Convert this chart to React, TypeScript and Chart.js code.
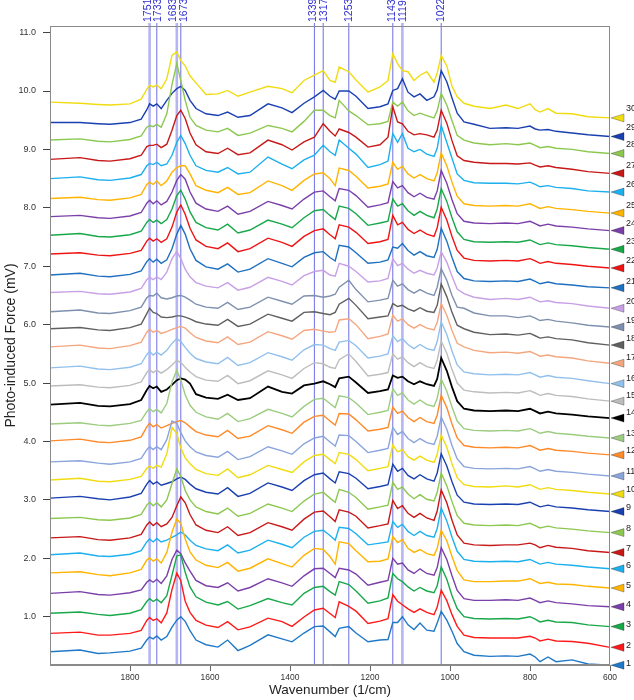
import React, { useEffect, useRef } from "react";
import { Chart, registerables } from "chart.js";

Chart.register(...registerables);

// Wavenumber grid (1/cm) shared by all spectra
const WAVENUMBERS = [2000, 1925, 1880, 1850, 1800, 1772, 1758, 1751, 1742, 1733, 1722, 1708, 1695, 1683, 1673, 1662, 1650, 1635, 1610, 1580, 1556, 1530, 1500, 1455, 1420, 1395, 1365, 1339, 1317, 1300, 1287, 1277, 1253, 1235, 1205, 1175, 1155, 1143, 1131, 1119, 1105, 1090, 1075, 1058, 1040, 1032, 1022, 1008, 995, 982, 965, 940, 900, 860, 830, 800, 787, 775, 755, 735, 695, 655, 600];

// Vertical offset of every spectrum (value at 2000 1/cm), mV
const OFFSETS = [0.40, 0.715, 1.06, 1.40, 1.75, 2.06, 2.35, 2.68, 3.03, 3.34, 3.65, 4.01, 4.30, 4.63, 4.95, 5.26, 5.62, 5.93, 6.22, 6.55, 6.85, 7.21, 7.53, 7.85, 8.16, 8.50, 8.83, 9.16, 9.46, 9.81];

// Spectra relative to their offsets (mV)
const S01 = [0,.03,-.03,-.02,.01,.06,.20,.25,.22,.27,.20,.26,.42,.54,.60,.52,.36,.20,.12,.08,.20,.02,.11,.29,.22,.17,.32,.43,.44,.34,.26,.40,.43,.32,.17,.20,.21,.50,.50,.60,.46,.38,.49,.37,.35,.49,.69,.54,.35,.14,0,-.06,-.08,-.07,-.08,-.04,-.09,-.17,-.09,-.17,-.14,-.21,-.23];
const S02 = [0,.02,-.03,-.03,0,.05,.22,.27,.22,.25,.18,.35,.75,1.03,.90,.55,.36,.22,.14,.10,.20,.06,.11,.26,.20,.12,.28,.40,.43,.34,.27,.54,.46,.38,.17,.21,.25,.66,.55,.49,.42,.36,.42,.36,.32,.45,.74,.56,.32,.12,-.03,-.07,-.08,-.08,-.08,-.05,-.08,-.13,-.10,-.13,-.14,-.17,-.24];
const S03 = [0,.02,-.02,-.04,0,.06,.20,.25,.20,.24,.18,.30,.65,.98,1.00,.70,.45,.28,.19,.14,.20,.07,.13,.25,.18,.14,.34,.44,.46,.37,.31,.54,.49,.38,.17,.21,.26,.68,.59,.54,.45,.38,.44,.38,.35,.47,.79,.58,.30,.08,-.06,-.09,-.10,-.09,-.10,-.06,-.10,-.15,-.12,-.15,-.16,-.20,-.23];
const S04 = [0,.03,-.02,-.03,.01,.06,.19,.23,.19,.24,.17,.30,.58,.74,.68,.52,.38,.22,.13,.10,.18,.04,.10,.25,.18,.12,.30,.42,.43,.34,.27,.43,.40,.33,.14,.19,.22,.60,.50,.52,.40,.34,.42,.34,.31,.44,.78,.58,.30,.05,-.09,-.12,-.12,-.11,-.12,-.08,-.12,-.16,-.13,-.16,-.18,-.21,-.23];
const S05 = [0,.02,-.03,-.05,0,.06,.22,.26,.20,.24,.17,.35,.70,.92,.85,.58,.36,.22,.13,.09,.18,.03,.08,.24,.16,.10,.30,.42,.40,.28,.15,.53,.50,.38,.19,.20,.24,.62,.52,.57,.42,.35,.40,.33,.30,.42,.73,.55,.28,.04,-.12,-.15,-.15,-.14,-.14,-.10,-.14,-.18,-.16,-.19,-.20,-.23,-.26];
const S06 = [0,.03,-.02,-.03,.01,.07,.22,.27,.22,.28,.22,.25,.30,.34,.39,.34,.25,.16,.10,.07,.17,.03,.08,.25,.18,.12,.30,.40,.42,.33,.25,.47,.45,.36,.17,.20,.22,.57,.47,.52,.40,.33,.40,.33,.30,.45,.80,.58,.30,.06,-.08,-.11,-.12,-.11,-.12,-.08,-.12,-.16,-.13,-.16,-.18,-.21,-.24];
const S07 = [0,.02,-.03,-.04,0,.06,.22,.27,.21,.26,.19,.24,.35,.55,.70,.60,.40,.22,.13,.09,.19,.04,.09,.26,.19,.13,.32,.44,.46,.36,.28,.48,.44,.37,.17,.21,.24,.64,.50,.55,.42,.35,.42,.34,.30,.46,.82,.60,.30,.05,-.09,-.12,-.13,-.12,-.12,-.09,-.12,-.17,-.13,-.16,-.18,-.22,-.25];
const S08 = [0,.02,-.02,-.03,.01,.07,.23,.28,.22,.27,.20,.32,.60,.85,.72,.48,.32,.20,.12,.08,.18,.04,.09,.25,.18,.12,.30,.42,.45,.35,.28,.50,.45,.36,.16,.20,.23,.62,.50,.54,.42,.34,.41,.33,.30,.45,.78,.56,.29,.05,-.08,-.11,-.12,-.11,-.12,-.08,-.12,-.16,-.13,-.16,-.18,-.21,-.24];
const S09 = [0,.03,-.01,-.03,.02,.08,.24,.30,.24,.28,.22,.25,.28,.33,.36,.32,.24,.16,.10,.07,.18,.03,.08,.26,.19,.13,.30,.40,.43,.33,.26,.45,.42,.34,.16,.20,.23,.58,.46,.51,.39,.33,.40,.33,.29,.43,.76,.55,.28,.05,-.07,-.10,-.11,-.10,-.11,-.07,-.11,-.15,-.12,-.15,-.17,-.20,-.23];
const S10 = [0,.03,-.02,-.03,.01,.06,.20,.24,.20,.25,.22,.45,.90,.80,.55,.38,.28,.18,.11,.08,.19,.04,.09,.25,.18,.13,.31,.42,.44,.35,.28,.47,.44,.35,.16,.20,.23,.60,.48,.52,.40,.34,.41,.34,.30,.44,.77,.56,.28,.04,-.08,-.11,-.12,-.10,-.12,-.08,-.12,-.16,-.13,-.16,-.18,-.21,-.24];
const S11 = [0,.02,-.02,-.04,0,.06,.21,.26,.21,.26,.21,.38,.70,.66,.50,.36,.26,.17,.11,.08,.18,.04,.09,.26,.19,.13,.31,.41,.44,.34,.27,.46,.45,.35,.16,.20,.23,.59,.47,.52,.40,.33,.40,.33,.30,.44,.77,.56,.28,.05,-.08,-.11,-.12,-.11,-.12,-.08,-.12,-.16,-.13,-.16,-.18,-.21,-.24];
const S12 = [0,.03,-.02,-.03,.01,.07,.24,.30,.24,.28,.22,.26,.30,.33,.35,.31,.24,.16,.10,.07,.18,.04,.08,.26,.19,.13,.32,.42,.44,.34,.27,.47,.46,.36,.17,.20,.23,.58,.47,.51,.40,.33,.40,.33,.30,.44,.78,.57,.29,.05,-.08,-.11,-.12,-.11,-.12,-.08,-.12,-.16,-.13,-.16,-.18,-.21,-.24];
const S13 = [0,.02,-.02,-.03,.01,.06,.21,.26,.21,.25,.19,.35,.72,.92,.75,.50,.32,.20,.12,.08,.18,.04,.09,.25,.18,.12,.30,.42,.44,.35,.28,.48,.45,.36,.16,.20,.23,.60,.49,.53,.41,.34,.41,.33,.30,.44,.77,.56,.29,.05,-.08,-.11,-.12,-.11,-.12,-.08,-.12,-.16,-.13,-.16,-.18,-.21,-.24];
const S14 = [0,.03,-.02,-.03,.01,.08,.25,.32,.28,.31,.22,.26,.34,.42,.45,.43,.36,.18,.12,.10,.17,.08,.11,.31,.22,.19,.33,.36,.40,.35,.30,.45,.48,.38,.20,.23,.26,.50,.46,.48,.40,.35,.40,.35,.32,.44,.80,.58,.30,.06,-.07,-.10,-.11,-.10,-.11,-.07,-.11,-.15,-.12,-.15,-.17,-.20,-.23];
const S15 = [0,.02,-.02,-.03,.01,.07,.23,.28,.23,.27,.22,.28,.36,.44,.40,.32,.24,.16,.10,.08,.18,.04,.09,.26,.19,.13,.30,.40,.38,.32,.30,.45,.55,.42,.17,.20,.23,.55,.46,.50,.40,.33,.40,.33,.30,.44,.77,.56,.28,.05,-.07,-.10,-.12,-.11,-.12,-.08,-.12,-.16,-.13,-.16,-.18,-.22,-.26];
const S16 = [0,.03,-.02,-.03,.01,.07,.23,.28,.22,.27,.22,.30,.42,.50,.45,.35,.25,.16,.10,.07,.18,.04,.09,.26,.19,.13,.31,.40,.39,.33,.30,.44,.47,.38,.17,.20,.24,.55,.45,.50,.40,.33,.40,.33,.30,.45,.79,.57,.29,.05,-.07,-.10,-.12,-.11,-.12,-.08,-.12,-.16,-.13,-.16,-.18,-.22,-.27];
const S17 = [0,.03,-.02,-.03,.02,.08,.25,.30,.25,.28,.23,.26,.30,.33,.35,.32,.24,.16,.10,.07,.17,.04,.08,.26,.19,.13,.28,.30,.27,.25,.26,.46,.48,.38,.14,.18,.22,.54,.44,.48,.38,.32,.38,.32,.29,.42,.74,.54,.28,.06,0,-.06,-.10,-.09,-.11,-.08,-.12,-.16,-.14,-.17,-.19,-.24,-.28];
const S18 = [0,.02,-.02,-.03,.02,.08,.26,.35,.28,.26,.20,.19,.20,.22,.22,.20,.17,.12,.08,.06,.16,.04,.08,.25,.18,.13,.28,.29,.26,.24,.28,.42,.52,.40,.17,.20,.22,.43,.38,.40,.34,.30,.36,.30,.28,.40,.77,.55,.28,.06,0,-.06,-.10,-.09,-.11,-.08,-.12,-.16,-.14,-.17,-.19,-.24,-.28];
const S19 = [0,.03,-.02,-.03,.02,.08,.24,.28,.27,.32,.24,.22,.24,.27,.28,.25,.20,.13,.08,.06,.16,.04,.08,.25,.18,.13,.27,.28,.25,.27,.30,.42,.54,.38,.17,.20,.23,.54,.44,.48,.38,.32,.38,.32,.28,.42,.74,.54,.28,.08,.06,-.02,-.07,-.07,-.10,-.07,-.11,-.15,-.13,-.16,-.19,-.23,-.26];
const S20 = [0,.02,-.02,-.03,.01,.07,.22,.26,.22,.27,.22,.35,.58,.70,.58,.40,.27,.17,.11,.08,.17,.04,.09,.26,.19,.13,.29,.36,.38,.30,.28,.50,.45,.36,.18,.20,.24,.58,.46,.50,.40,.33,.38,.33,.30,.42,.70,.52,.28,.06,-.02,-.08,-.12,-.10,-.12,-.08,-.12,-.16,-.14,-.17,-.19,-.23,-.27];
const S21 = [0,.03,-.02,-.03,.01,.07,.23,.28,.22,.27,.20,.26,.45,.70,.85,.70,.45,.25,.14,.10,.19,.05,.10,.28,.20,.14,.30,.38,.40,.30,.24,.51,.48,.38,.20,.22,.26,.48,.46,.54,.42,.34,.40,.33,.30,.44,.80,.58,.30,.06,-.06,-.10,-.11,-.10,-.11,-.07,-.11,-.15,-.12,-.15,-.17,-.20,-.22];
const S22 = [0,.02,-.02,-.03,.01,.06,.22,.27,.22,.26,.20,.26,.46,.72,.84,.68,.44,.24,.13,.09,.19,.04,.09,.27,.20,.13,.30,.40,.43,.33,.26,.50,.46,.37,.18,.21,.25,.66,.50,.54,.42,.35,.41,.34,.30,.45,.80,.58,.30,.06,-.07,-.11,-.12,-.11,-.12,-.08,-.12,-.16,-.13,-.16,-.18,-.21,-.24];
const S23 = [0,.03,-.02,-.03,.01,.07,.22,.27,.22,.26,.20,.27,.45,.68,.77,.62,.40,.22,.13,.09,.19,.04,.09,.26,.19,.13,.30,.42,.44,.34,.27,.50,.46,.37,.17,.21,.24,.62,.50,.54,.42,.34,.41,.34,.30,.45,.80,.58,.30,.06,-.07,-.11,-.12,-.11,-.12,-.08,-.12,-.16,-.13,-.16,-.18,-.21,-.24];
const S24 = [0,.02,-.02,-.03,.01,.07,.23,.28,.22,.27,.20,.26,.42,.62,.72,.64,.42,.23,.13,.09,.18,.04,.09,.26,.19,.13,.30,.42,.44,.34,.27,.48,.45,.36,.16,.20,.24,.60,.49,.53,.41,.34,.40,.33,.30,.44,.79,.57,.29,.05,-.08,-.11,-.12,-.11,-.12,-.08,-.12,-.16,-.13,-.16,-.18,-.21,-.24];
const S25 = [0,.02,-.02,-.03,.01,.07,.24,.28,.24,.30,.22,.30,.45,.53,.56,.56,.42,.22,.14,.10,.19,.07,.10,.30,.22,.14,.31,.42,.44,.34,.22,.52,.48,.38,.18,.21,.25,.62,.50,.55,.42,.35,.41,.34,.30,.44,.78,.56,.28,.04,-.09,-.12,-.13,-.12,-.13,-.09,-.13,-.17,-.14,-.17,-.19,-.22,-.25];
const S26 = [0,.03,-.02,-.03,.01,.07,.22,.26,.24,.28,.22,.25,.40,.62,.74,.60,.40,.22,.14,.11,.19,.08,.11,.37,.25,.17,.32,.40,.57,.46,.40,.66,.52,.42,.19,.24,.30,.77,.62,.77,.52,.46,.50,.42,.38,.52,.91,.62,.35,.08,-.03,-.07,-.08,-.08,-.09,-.06,-.10,-.14,-.12,-.15,-.17,-.21,-.23];
const S27 = [0,.03,-.02,-.03,.01,.07,.22,.24,.24,.26,.20,.26,.50,.75,.84,.70,.45,.25,.13,.10,.19,.08,.11,.33,.25,.16,.30,.38,.61,.48,.40,.52,.46,.38,.21,.25,.38,.90,.64,.61,.48,.42,.44,.42,.38,.50,.84,.62,.32,.06,-.02,-.05,-.07,-.07,-.08,-.06,-.10,-.13,-.11,-.14,-.17,-.21,-.24];
const S28 = [0,.02,-.02,-.03,.01,.07,.22,.25,.23,.27,.22,.45,.95,1.31,1.02,.68,.39,.25,.17,.14,.20,.08,.12,.25,.20,.14,.32,.51,.51,.42,.38,.68,.50,.42,.26,.28,.32,.65,.58,.65,.50,.42,.46,.42,.38,.50,.80,.60,.33,.08,0,-.05,-.08,-.06,-.08,-.05,-.09,-.13,-.11,-.14,-.16,-.20,-.23];
const S29 = [0,0,-.02,-.03,0,.06,.22,.32,.28,.32,.24,.38,.50,.58,.62,.55,.38,.24,.15,.12,.18,.09,.12,.32,.25,.17,.33,.44,.55,.45,.40,.54,.54,.45,.24,.27,.32,.55,.58,.75,.52,.44,.49,.38,.44,.56,.89,.70,.42,.16,.01,-.03,-.10,-.09,-.10,-.06,-.11,-.13,-.12,-.15,-.18,-.21,-.24];
const S30 = [0,-.02,-.04,-.05,-.03,.05,.22,.29,.26,.29,.23,.40,.80,.86,.71,.62,.45,.33,.13,.14,.20,.10,.17,.27,.23,.16,.37,.46,.54,.37,.34,.60,.52,.38,.17,.26,.37,.83,.66,.54,.52,.37,.46,.52,.34,.50,.80,.62,.27,.09,-.02,-.07,-.11,-.05,-.11,-.03,-.13,-.17,-.11,-.19,-.20,-.25,-.27];

const SPECTRA = [S01, S02, S03, S04, S05, S06, S07, S08, S09, S10, S11, S12, S13, S14, S15, S16, S17, S18, S19, S20, S21, S22, S23, S24, S25, S26, S27, S28, S29, S30];

const COLORS = ["#2078c8", "#ff1a1a", "#18a84a", "#7a3fa8", "#ffb400", "#1cb0ee", "#c81818", "#8cc850", "#1a40b0", "#f0dc10", "#8aa4dc", "#ff8a2a", "#9ccc80", "#000000", "#bdbdbd", "#92c0ec", "#f5a67e", "#606060", "#7f90ae", "#c8a0e6", "#1f70c0", "#ee1414", "#18a84a", "#7a3fa8", "#ffb400", "#1cb0ee", "#c81818", "#8cc850", "#1a40b0", "#f0dc10"];

const PEAK_LINES = [1751, 1733, 1683, 1673, 1339, 1317, 1253, 1143, 1119, 1022];
const WIDE_PEAKS = [1751, 1683, 1119];
const X_TICKS = [1800, 1600, 1400, 1200, 1000, 800, 600];
const Y_TICKS = [1, 2, 3, 4, 5, 6, 7, 8, 9, 10, 11];

const FONT = "'Liberation Sans', Arial, sans-serif";

const overlayPlugin = {
  id: "overlay",
  beforeDatasetsDraw(chart: any) {
    const { ctx, chartArea: a, scales } = chart;
    ctx.save();
    PEAK_LINES.forEach((p) => {
      const x = scales.x.getPixelForValue(p);
      const wide = WIDE_PEAKS.includes(p);
      ctx.strokeStyle = wide ? "rgba(120,120,235,0.55)" : "rgba(85,85,225,0.85)";
      ctx.lineWidth = wide ? 2.6 : 1;
      ctx.beginPath();
      ctx.moveTo(x, 23);
      ctx.lineTo(x, a.bottom);
      ctx.stroke();
    });
    ctx.restore();
  },
  afterDraw(chart: any) {
    const { ctx, chartArea: a, scales } = chart;
    ctx.save();
    // frame
    ctx.strokeStyle = "#8a8a8a";
    ctx.lineWidth = 1;
    ctx.strokeRect(a.left + 0.5, a.top + 0.5, a.right - a.left - 1, a.bottom - a.top - 1);
    // peak labels with spreading for close pairs
    const xs = PEAK_LINES.map((p) => scales.x.getPixelForValue(p));
    const lx = xs.slice();
    for (let i = 0; i < lx.length - 1; i++) {
      const gap = lx[i + 1] - lx[i];
      if (gap < 10.5) {
        const d = (10.5 - gap) / 2;
        lx[i] -= d;
        lx[i + 1] += d;
      }
    }
    ctx.fillStyle = "#2c2cd0";
    ctx.font = `10.5px ${FONT}`;
    ctx.textAlign = "left";
    ctx.textBaseline = "middle";
    PEAK_LINES.forEach((p, i) => {
      ctx.save();
      ctx.translate(lx[i], 22);
      ctx.rotate(-Math.PI / 2);
      ctx.fillText(String(p), 0, 0);
      ctx.restore();
    });
    // end triangles + numbers
    ctx.font = `9px ${FONT}`;
    ctx.textBaseline = "middle";
    SPECTRA.forEach((s, i) => {
      const y = scales.y.getPixelForValue(OFFSETS[i] + s[s.length - 1]);
      const x0 = a.right + 1;
      ctx.fillStyle = COLORS[i];
      ctx.strokeStyle = "rgba(0,0,0,0.45)";
      ctx.lineWidth = 0.6;
      ctx.beginPath();
      ctx.moveTo(x0, y);
      ctx.lineTo(x0 + 13, y - 4);
      ctx.lineTo(x0 + 13, y + 4);
      ctx.closePath();
      ctx.fill();
      ctx.stroke();
      ctx.fillStyle = "#222";
      ctx.fillText(String(i + 1), x0 + 15, y - 2 - (7 * i) / 29);
    });
    ctx.restore();
  },
};

export default function App() {
  const ref = useRef<HTMLCanvasElement | null>(null);
  useEffect(() => {
    const canvas = ref.current;
    if (!canvas) return;
    const datasets = SPECTRA.map((s, i) => ({
      label: String(i + 1),
      data: WAVENUMBERS.map((w, j) => ({ x: w, y: OFFSETS[i] + s[j] })),
      borderColor: COLORS[i],
      borderWidth: i === 13 ? 1.8 : 1.4,
      pointRadius: 0,
      fill: false,
      tension: 0,
    }));
    const chart = new Chart(canvas, {
      type: "line",
      data: { datasets },
      options: {
        responsive: false,
        animation: false,
        devicePixelRatio: 1,
        layout: { padding: { top: 26, right: 24, left: 0, bottom: 0 } },
        plugins: { legend: { display: false }, tooltip: { enabled: false } },
        scales: {
          x: {
            type: "linear",
            reverse: true,
            min: 600,
            max: 2000,
            afterBuildTicks: (s: any) => {
              s.ticks = X_TICKS.map((v) => ({ value: v }));
            },
            afterFit: (s: any) => {
              s.height = 35;
            },
            grid: { drawOnChartArea: false, drawTicks: true, tickLength: 6, color: "#666" },
            border: { display: true, color: "#8a8a8a" },
            ticks: {
              font: { size: 8.5, family: FONT },
              color: "#333",
              padding: 2,
              maxRotation: 0,
              autoSkip: false,
              callback: (v: any) => String(v),
            },
            title: {
              display: true,
              text: "Wavenumber (1/cm)",
              font: { size: 13.5, family: FONT },
              color: "#222",
              padding: { top: 0, bottom: 2 },
            },
          },
          y: {
            type: "linear",
            min: 0.173,
            max: 11.113,
            afterBuildTicks: (s: any) => {
              s.ticks = Y_TICKS.map((v) => ({ value: v }));
            },
            afterFit: (s: any) => {
              s.width = 50;
            },
            grid: { drawOnChartArea: false, drawTicks: true, tickLength: 7, color: "#444" },
            border: { display: true, color: "#8a8a8a" },
            ticks: {
              font: { size: 9, family: FONT },
              color: "#333",
              padding: 7,
              autoSkip: false,
              callback: (v: any) => Number(v).toFixed(1),
            },
            title: {
              display: true,
              text: "Photo-induced Force (mV)",
              font: { size: 14, family: FONT },
              color: "#222",
              padding: { top: 3, bottom: 0 },
            },
          },
        },
      } as any,
      plugins: [overlayPlugin],
    });
    return () => chart.destroy();
  }, []);
  return (
    <div style={{ position: "fixed", left: 0, top: 0, width: 634, height: 700, background: "#fff" }}>
      <canvas ref={ref} width={634} height={700} style={{ display: "block" }} />
    </div>
  );
}
